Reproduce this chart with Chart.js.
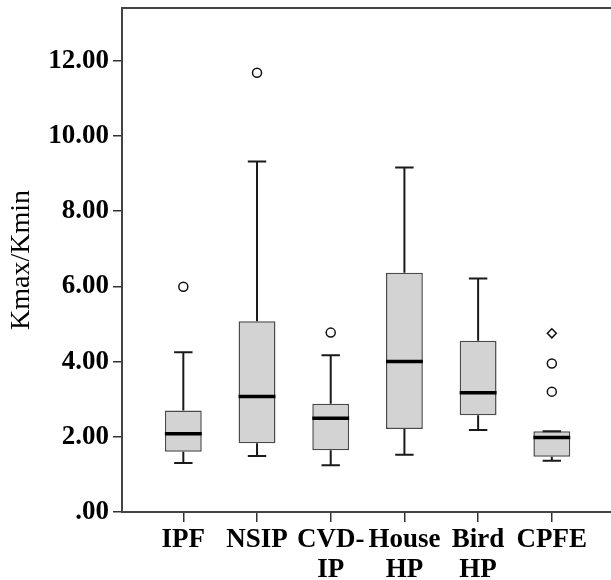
<!DOCTYPE html>
<html><head><meta charset="utf-8">
<script src="https://cdn.jsdelivr.net/npm/chart.js@4"></script>
<style>html,body{margin:0;padding:0;background:#fff}#c{display:block;background:#fff}</style>
</head><body>
<canvas id="c" width="611" height="580"></canvas>
<script>
// ---- data ----
const categories = [['IPF'], ['NSIP'], ['CVD-', 'IP'], ['House', 'HP'], ['Bird', 'HP'], ['CPFE']];
const whiskerLow  = [1.30, 1.49, 1.24, 1.52, 2.18, 1.36];
const quartile1   = [1.60, 1.83, 1.64, 2.21, 2.57, 1.47];
const medianValue = [2.08, 3.07, 2.49, 4.00, 3.17, 1.98];
const quartile3   = [2.70, 5.07, 2.88, 6.36, 4.55, 2.15];
const whiskerHigh = [4.25, 9.32, 4.17, 9.16, 6.21, 2.15];
const outlierCategory = [1, 2, 3, 6, 6, 6];
const outlierValue    = [5.99, 11.68, 4.77, 4.75, 3.95, 3.20];
const outlierShape    = ['circle', 'circle', 'circle', 'rectRot', 'circle', 'circle'];
const yTickValues = [0, 2, 4, 6, 8, 10, 12];
const yTickLabels = ['.00', '2.00', '4.00', '6.00', '8.00', '10.00', '12.00'];
const yTitle = 'Kmax/Kmin';

const positions = categories.map((_, i) => i + 1);
const serif = 'Liberation Serif, Times New Roman, serif';

const boxParts = {
  id: 'boxParts',
  afterDatasetsDraw(chart) {
    const ctx = chart.ctx, xs = chart.scales.x, ys = chart.scales.y, ca = chart.chartArea;
    ctx.save();
    ctx.strokeStyle = '#444';
    ctx.lineWidth = 2;
    ctx.beginPath();
    ctx.moveTo(ca.left, ca.top);
    ctx.lineTo(chart.width, ca.top);
    ctx.stroke();
    positions.forEach((p, i) => {
      const cx = xs.getPixelForValue(p);
      const capHalf = xs.getPixelForValue(p + 0.125) - cx;
      const boxHalf = xs.getPixelForValue(p + 0.25) - cx;
      const yHi = ys.getPixelForValue(whiskerHigh[i]);
      const yQ3 = ys.getPixelForValue(quartile3[i]);
      const yQ1 = ys.getPixelForValue(quartile1[i]);
      const yLo = ys.getPixelForValue(whiskerLow[i]);
      const yMed = ys.getPixelForValue(medianValue[i]);
      ctx.strokeStyle = '#1a1a1a';
      ctx.lineWidth = 2;
      ctx.beginPath();
      ctx.moveTo(cx, yQ3); ctx.lineTo(cx, yHi);
      ctx.moveTo(cx, yQ1); ctx.lineTo(cx, yLo);
      ctx.moveTo(cx - capHalf, yHi); ctx.lineTo(cx + capHalf, yHi);
      ctx.moveTo(cx - capHalf, yLo); ctx.lineTo(cx + capHalf, yLo);
      ctx.stroke();
      ctx.strokeStyle = '#000';
      ctx.lineWidth = 3.5;
      ctx.beginPath();
      ctx.moveTo(cx - boxHalf, yMed); ctx.lineTo(cx + boxHalf, yMed);
      ctx.stroke();
    });
    ctx.restore();
  }
};

new Chart(document.getElementById('c'), {
  type: 'bar',
  data: {
    datasets: [
      {
        type: 'bar',
        data: positions.map((p, i) => ({ x: p, y: [quartile1[i], quartile3[i]] })),
        backgroundColor: '#d3d3d3',
        borderColor: '#4a4a4a',
        borderWidth: 1.5,
        borderSkipped: false,
        barPercentage: 0.5,
        categoryPercentage: 1,
        order: 2
      },
      {
        type: 'scatter',
        data: outlierCategory.map((c, i) => ({ x: c, y: outlierValue[i] })),
        pointStyle: outlierShape,
        pointRadius: 4.5,
        pointBackgroundColor: '#fff',
        pointBorderColor: '#111',
        pointBorderWidth: 1.5,
        order: 1
      }
    ]
  },
  options: {
    responsive: false,
    animation: false,
    layout: { autoPadding: false, padding: { top: 8, left: 0, right: 0, bottom: 0 } },
    plugins: { legend: { display: false }, tooltip: { enabled: false } },
    scales: {
      x: {
        type: 'linear',
        offset: false,
        min: 0.168,
        max: 6.803,
        afterBuildTicks: s => { s.ticks = positions.map(v => ({ value: v })); },
        afterFit: s => { s.height = 68; s.paddingLeft = 0; s.paddingRight = 0; },
        ticks: {
          callback: (v, i) => categories[i],
          font: { family: serif, size: 27, weight: 'bold', lineHeight: 1.1 },
          color: '#000',
          padding: 3,
          maxRotation: 0,
          autoSkip: false
        },
        grid: { offset: false, drawOnChartArea: false, drawTicks: true, tickLength: 10, color: '#333', lineWidth: 1.5 },
        border: { display: true, color: '#444', width: 2 }
      },
      y: {
        type: 'linear',
        min: 0,
        max: 13.4,
        afterBuildTicks: s => { s.ticks = yTickValues.map(v => ({ value: v })); },
        afterFit: s => { s.width = 122; s.paddingTop = 0; s.paddingBottom = 0; },
        ticks: {
          callback: (v, i) => yTickLabels[i],
          font: { family: serif, size: 27, weight: 'bold' },
          color: '#000',
          padding: 4
        },
        grid: { drawOnChartArea: false, drawTicks: true, tickLength: 9, color: '#333', lineWidth: 1.5 },
        border: { display: true, color: '#444', width: 2 },
        title: {
          display: true,
          text: yTitle,
          font: { family: serif, size: 28 },
          color: '#000',
          padding: { top: 5, bottom: 0 }
        }
      }
    }
  },
  plugins: [boxParts]
});
</script>
</body></html>
